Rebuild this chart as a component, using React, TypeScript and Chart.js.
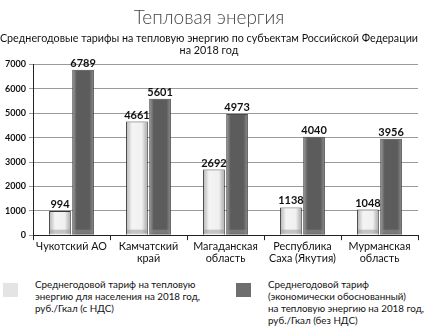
import React, { useEffect, useRef } from "react";
import { Chart, registerables } from "chart.js";

Chart.register(...registerables);

const categories: string[][] = [
  ["Чукотский АО"],
  ["Камчатский", "край"],
  ["Магаданская", "область"],
  ["Республика", "Саха (Якутия)"],
  ["Мурманская", "область"],
];
const populationTariff = [994, 4661, 2692, 1138, 1048];
const economicTariff = [6789, 5601, 4973, 4040, 3956];
const seriesNames = [
  "Среднегодовой тариф на тепловую энергию для населения на 2018 год, руб./Гкал (с НДС)",
  "Среднегодовой тариф (экономически обоснованный) на тепловую энергию на 2018 год, руб./Гкал (без НДС)",
];
const legendLines: string[][] = [
  ["Среднегодовой тариф на тепловую", "энергию для населения на 2018 год,", "руб./Гкал (с НДС)"],
  ["Среднегодовой тариф", "(экономически обоснованный)", "на тепловую энергию на 2018 год,", "руб./Гкал (без НДС)"],
];
const titleText = "Тепловая энергия";
const subtitleLines = [
  "Среднегодовые тарифы на тепловую энергию по субъектам Российской Федерации",
  "на 2018 год",
];

const FONT = "Lato, 'Noto Sans', sans-serif";
const lightFill = "#e4e4e4";
const darkFill = "#6e6e6e";
const gradStops = [
  [
    [0, "#bdbdbd"],
    [0.25, "#f4f4f4"],
    [0.75, "#f0f0f0"],
    [1, "#b0b0b0"],
  ],
  [
    [0, "#929292"],
    [0.18, "#5c5c5c"],
    [0.82, "#5c5c5c"],
    [1, "#848484"],
  ],
];

const barShading = {
  id: "barShading",
  afterDatasetsDraw(chart: any) {
    const ctx = chart.ctx;
    ctx.save();
    chart.data.datasets.forEach((ds: any, di: number) => {
      const meta = chart.getDatasetMeta(di);
      meta.data.forEach((el: any) => {
        const { x, y, base, width } = el.getProps(["x", "y", "base", "width"], true);
        const l = x - width / 2 + 1;
        const r = x + width / 2 - 1;
        const g = ctx.createLinearGradient(l, 0, r, 0);
        gradStops[di].forEach(([o, c]: any) => g.addColorStop(o, c));
        ctx.fillStyle = g;
        ctx.fillRect(l, y + 1, r - l, base - y - 2);
        ctx.fillStyle = di === 0 ? "rgba(150,150,150,0.5)" : "rgba(140,140,140,0.6)";
        ctx.fillRect(l, base - 5, r - l, 4);
      });
    });
    ctx.restore();
  },
};

const valueLabels = {
  id: "valueLabels",
  afterDatasetsDraw(chart: any) {
    const ctx = chart.ctx;
    ctx.save();
    ctx.font = `bold 11px ${FONT}`;
    ctx.fillStyle = "#111";
    ctx.textAlign = "center";
    ctx.textBaseline = "bottom";
    chart.data.datasets.forEach((ds: any, di: number) => {
      const meta = chart.getDatasetMeta(di);
      meta.data.forEach((el: any, i: number) => {
        ctx.fillText(String(ds.data[i]), el.x, el.y - 1);
      });
    });
    ctx.restore();
  },
};

export default function App() {
  const ref = useRef<HTMLCanvasElement>(null);
  useEffect(() => {
    document.body.style.margin = "0";
    const chart = new Chart(ref.current!, {
      type: "bar",
      data: {
        labels: categories,
        datasets: [
          {
            label: seriesNames[0],
            data: populationTariff,
            backgroundColor: lightFill,
            borderColor: "#2a2a2a",
            borderWidth: 1,
            categoryPercentage: 0.6,
            barPercentage: 0.94,
          },
          {
            label: seriesNames[1],
            data: economicTariff,
            backgroundColor: darkFill,
            borderColor: "#4a4a4a",
            borderWidth: 1,
            categoryPercentage: 0.6,
            barPercentage: 0.94,
          },
        ],
      },
      options: {
        responsive: false,
        animation: false,
        layout: { padding: { left: 0, right: 10, top: 0, bottom: 0 } },
        plugins: {
          legend: { display: false },
          tooltip: { enabled: false },
          title: {
            display: true,
            text: titleText,
            color: "#444",
            font: { family: FONT, size: 19, weight: "300" as any },
            padding: { top: 6, bottom: 4 },
          },
          subtitle: {
            display: true,
            text: subtitleLines,
            color: "#111",
            font: { family: FONT, size: 10.8, lineHeight: 1.1 },
            padding: { top: 0, bottom: 8 },
          },
        },
        scales: {
          x: {
            grid: {
              drawOnChartArea: false,
              offset: true,
              color: "#222",
              tickLength: 5,
            },
            border: { color: "#222" },
            ticks: {
              color: "#111",
              font: { family: FONT, size: 10.8, lineHeight: 1.15 },
              maxRotation: 0,
              autoSkip: false,
              padding: 0,
            },
          },
          y: {
            min: 0,
            max: 7000,
            afterFit: (s: any) => {
              s.width = 33;
            },
            grid: { color: "#9a9a9a", tickLength: 4 },
            border: { color: "#222" },
            ticks: {
              stepSize: 1000,
              color: "#111",
              font: { family: FONT, size: 9, weight: "bold" },
              padding: 3,
              callback: (v: any) => String(v),
            },
          },
        },
      },
      plugins: [barShading, valueLabels],
    });
    return () => chart.destroy();
  }, []);

  const sq = (c: string): React.CSSProperties => ({
    position: "absolute",
    width: 15,
    height: 14,
    background: c,
  });
  const txt: React.CSSProperties = {
    position: "absolute",
    fontFamily: FONT,
    fontSize: 9.8,
    lineHeight: "12px",
    color: "#111",
    whiteSpace: "nowrap",
  };

  return (
    <div style={{ position: "relative", width: 428, height: 331, background: "#fff" }}>
      <canvas ref={ref} width={428} height={265} style={{ position: "absolute", left: 0, top: 0 }} />
      <div style={{ ...sq(lightFill), left: 3, top: 283 }} />
      <div style={{ ...txt, left: 35, top: 278 }}>
        {legendLines[0].map((l, i) => (
          <div key={i}>{l}</div>
        ))}
      </div>
      <div style={{ ...sq(darkFill), left: 236, top: 283 }} />
      <div style={{ ...txt, left: 268, top: 278 }}>
        {legendLines[1].map((l, i) => (
          <div key={i}>{l}</div>
        ))}
      </div>
    </div>
  );
}
